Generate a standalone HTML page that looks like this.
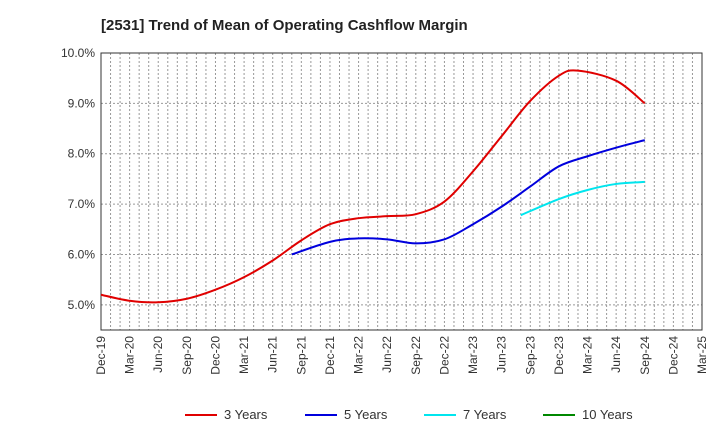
<!DOCTYPE html>
<html><head><meta charset="utf-8"><style>
body{margin:0;background:#fff;font-family:"Liberation Sans",Arial,sans-serif}
</style></head><body>
<svg id="chart" width="720" height="440" xmlns="http://www.w3.org/2000/svg" font-family="Liberation Sans, Arial, sans-serif">
<text x="101" y="30" font-size="15" font-weight="bold" fill="#222">[2531]  Trend of Mean of Operating Cashflow Margin</text>
<g id="grid"></g><g id="axes"></g><g id="series"></g><g id="legend"></g>
</svg>
<script>
const xLabels=["Dec-19","Mar-20","Jun-20","Sep-20","Dec-20","Mar-21","Jun-21","Sep-21","Dec-21","Mar-22","Jun-22","Sep-22","Dec-22","Mar-23","Jun-23","Sep-23","Dec-23","Mar-24","Jun-24","Sep-24","Dec-24","Mar-25"];
const yTicks=[5,6,7,8,9,10];
const seriesNames=["3 Years","5 Years","7 Years","10 Years"];
const seriesColors=["#e00000","#0000dd","#00e5ee","#008800"];
// month offsets from Dec-19
const s3Months=[0,3,6,9,12,15,18,21,24,27,30,33,36,39,42,45,48,50,54,57];
const s3=[5.2,5.08,5.05,5.12,5.3,5.55,5.88,6.28,6.6,6.72,6.76,6.8,7.05,7.65,8.35,9.05,9.55,9.65,9.45,9.0];
const s5Months=[20,24,27,30,33,36,39,42,45,48,51,54,57];
const s5=[6.0,6.25,6.32,6.3,6.22,6.3,6.6,6.95,7.35,7.75,7.95,8.12,8.27];
const s7Months=[44,48,51,54,57];
const s7=[6.78,7.1,7.28,7.4,7.44];
const s10Months=[];
const s10=[];
const L=101,R=702,T=53,B=330,yMin=4.5,yMax=10;
const NS="http://www.w3.org/2000/svg";
const xm=m=>L+(R-L)*m/63;
const y=v=>B-(v-yMin)/(yMax-yMin)*(B-T);
function mk(t,a,p){const e=document.createElementNS(NS,t);for(const k in a)e.setAttribute(k,a[k]);p.appendChild(e);return e;}
const g=document.getElementById('grid'),ax=document.getElementById('axes'),sg=document.getElementById('series'),lg=document.getElementById('legend');
for(let m=1;m<63;m++){const x=xm(m);const l=mk('line',{x1:x,x2:x,y1:T,y2:B,stroke:'#999','stroke-dasharray':'2,2','stroke-width':1},g);

}
yTicks.forEach(v=>{const l=mk('line',{x1:L,x2:R,y1:y(v),y2:y(v),stroke:'#999','stroke-dasharray':'2,2'},g);


const t=mk('text',{x:L-6,y:y(v)+4,'text-anchor':'end','font-size':12,fill:'#333'},ax);t.textContent=v.toFixed(1)+'%';

});
const fr=mk('rect',{x:L,y:T,width:R-L,height:B-T,fill:'none',stroke:'#333','stroke-width':1},ax);


xLabels.forEach((s,i)=>{const x=xm(i*3);const t=mk('text',{x:x+4,y:B+6,'text-anchor':'end','font-size':12,fill:'#333',transform:`rotate(-90 ${x+4} ${B+6})`},ax);t.textContent=s;

});
function path(ms,arr){const pts=arr.map((v,i)=>[xm(ms[i]),y(v)]);if(pts.length<2)return '';
let d=`M${pts[0][0]},${pts[0][1]}`;for(let i=0;i<pts.length-1;i++){const p0=pts[i-1]||pts[i],p1=pts[i],p2=pts[i+1],p3=pts[i+2]||p2;
d+=` C${p1[0]+(p2[0]-p0[0])/6},${p1[1]+(p2[1]-p0[1])/6} ${p2[0]-(p3[0]-p1[0])/6},${p2[1]-(p3[1]-p1[1])/6} ${p2[0]},${p2[1]}`;}return d;}
[[s3Months,s3],[s5Months,s5],[s7Months,s7],[s10Months,s10]].forEach((a,k)=>{const d=path(a[0],a[1]);if(!d)return;const p=mk('path',{d:d,fill:'none',stroke:seriesColors[k],'stroke-width':2},sg);

});
const lx=[185,305,424,543];
seriesNames.forEach((n,k)=>{const e=mk('g',{},lg);


mk('line',{x1:lx[k],x2:lx[k]+32,y1:415,y2:415,stroke:seriesColors[k],'stroke-width':2},e);
const t=mk('text',{x:lx[k]+39,y:419,'font-size':13,fill:'#333'},e);t.textContent=n;});
</script>
</body></html>
